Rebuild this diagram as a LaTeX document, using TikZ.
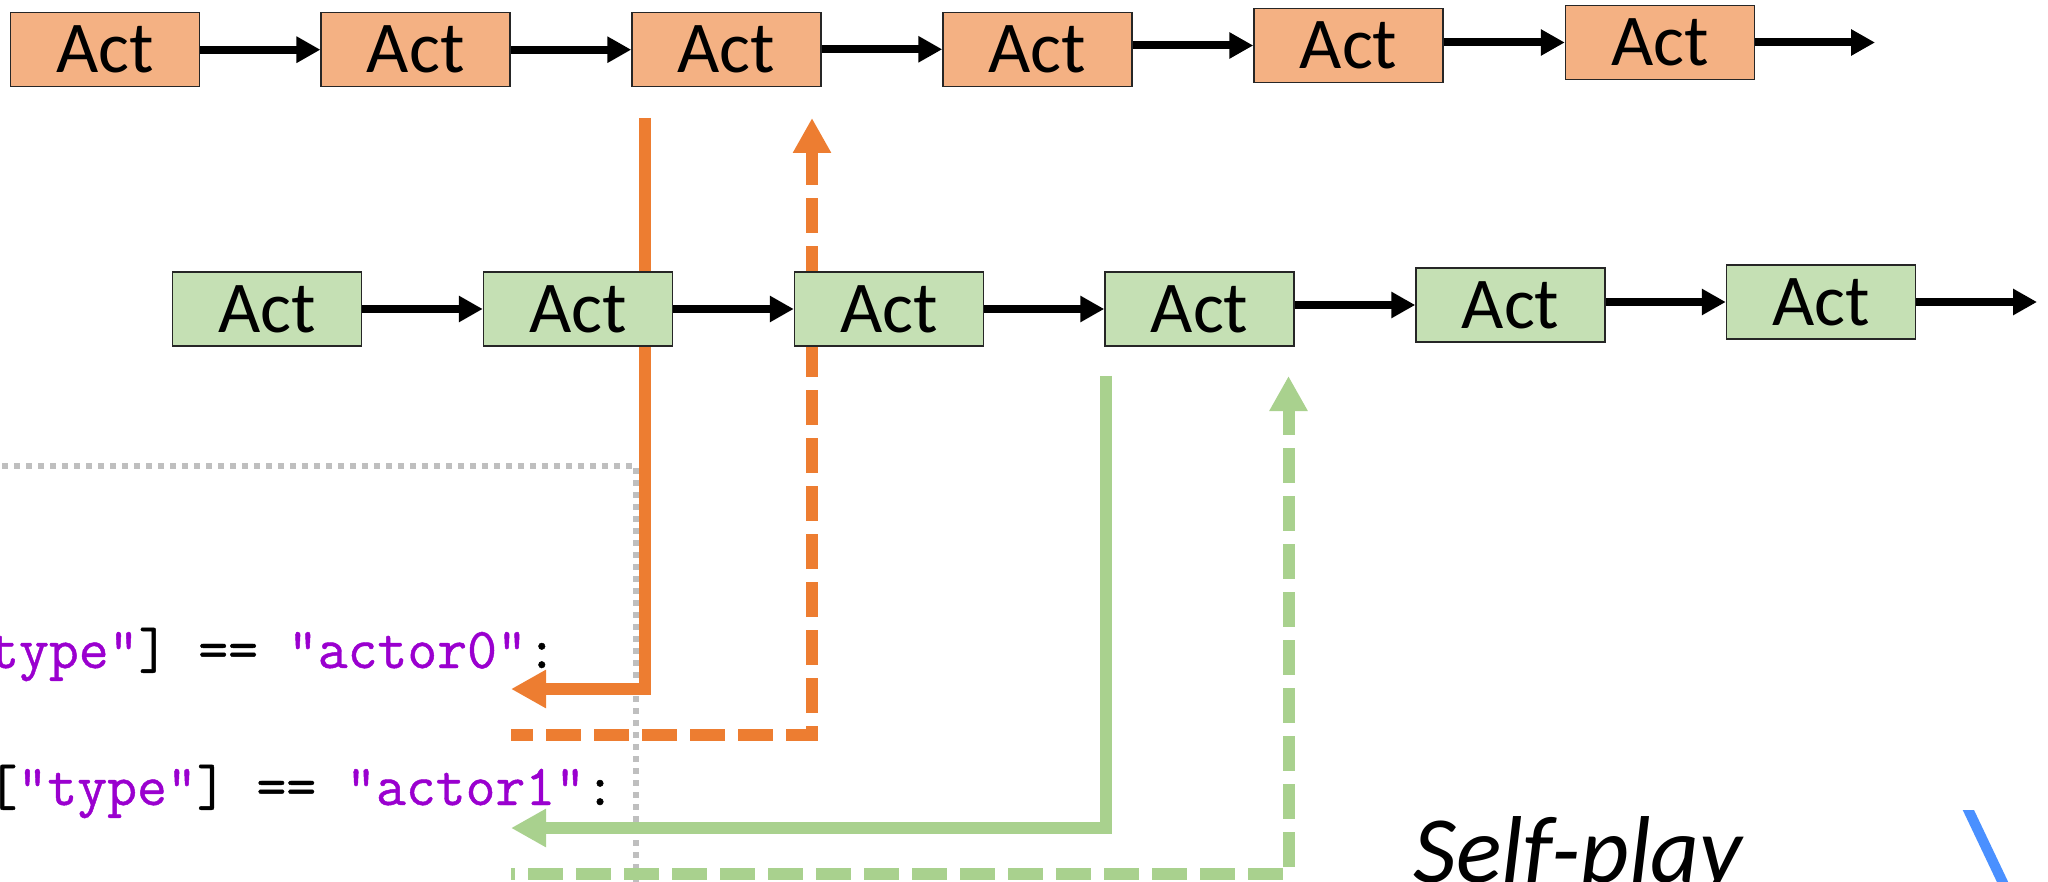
\documentclass[tikz,border=0pt]{standalone}
\usepackage{fontspec}
\newfontfamily\actfont{Carlito}
\newfontfamily\codefont{Latin Modern Mono}[FakeBold=0.8]
\usetikzlibrary{arrows.meta}
\definecolor{actorange}{HTML}{F4B183}
\definecolor{actgreen}{HTML}{C5E0B4}
\definecolor{lineorange}{HTML}{ED7D31}
\definecolor{linegreen}{HTML}{A9D18E}
\definecolor{guide}{HTML}{BFBFBF}
\definecolor{codestr}{HTML}{9A00CF}
\definecolor{accent}{HTML}{4A90FF}
\begin{document}
\begin{tikzpicture}[x=1pt,y=-1pt,
  actbox/.style={draw=black!85, line width=1.5pt, minimum width=189pt,
    minimum height=74pt, inner sep=0pt,
    font=\actfont\fontsize{73}{86}\selectfont},
  orangebox/.style={actbox, fill=actorange},
  greenbox/.style={actbox, fill=actgreen},
  flow/.style={line width=8pt, -{Triangle[length=24pt,width=25pt]}},
  feed/.style={line width=12pt, -{Triangle[length=35pt,width=36pt]}},
  dashfeed/.style={feed, dash pattern=on 35pt off 13pt},
  guideline/.style={draw=guide, line width=6pt, dash pattern=on 6pt off 6pt},
  code/.style={anchor=base west, inner sep=0pt,
    font=\codefont\fontsize{58}{70}\selectfont},
]
\useasboundingbox (0,0) rectangle (2048,882);

% actor 0 timeline
\node[orangebox] (o1) at (105,49.7)   {Act};
\node[orangebox] (o2) at (415.7,49.7) {Act};
\node[orangebox] (o3) at (726.5,49.7) {Act};
\node[orangebox] (o4) at (1037.5,49.3) {Act};
\node[orangebox] (o5) at (1348.5,45.5) {Act};
\node[orangebox] (o6) at (1660,42.5)  {Act};
\coordinate (oend) at (1875,42.5);
\foreach \a/\b in {o1/o2,o2/o3,o3/o4,o4/o5,o5/o6}
  \draw[flow] (\a.east |- \b.west) -- (\b.west);
\draw[flow] (o6.east) -- (oend);

% guide frame around the code
\coordinate (g0) at (-10,466);
\coordinate (g1) at (636,890);
\draw[guideline] (g0) -| (g1);

% code lines
\node[code] (c0) at (-11,668) {\textcolor{codestr}{type"}]~==~\textcolor{codestr}{"actor0"}:};
\node[code] (c1) at (-12.5,805) {[\textcolor{codestr}{"type"}]~==~\textcolor{codestr}{"actor1"}:};

% actor 0 feedback
\coordinate (os)  at (645,118);
\coordinate (ot)  at (511,689);
\coordinate (ods) at (511,735);
\coordinate (odt) at (812,118);
\draw[feed, lineorange] (os) |- (ot);
\draw[dashfeed, lineorange, dash phase=13pt] (ods) -| (odt);

% actor 1 timeline
\node[greenbox] (g1b) at (267,309)    {Act};
\node[greenbox] (g2b) at (578,309)    {Act};
\node[greenbox] (g3b) at (889,309)    {Act};
\node[greenbox] (g4b) at (1199.5,309) {Act};
\node[greenbox] (g5b) at (1510.5,305) {Act};
\node[greenbox] (g6b) at (1821,302)   {Act};
\coordinate (gend) at (2037,302);
\foreach \a/\b in {g1b/g2b,g2b/g3b,g3b/g4b,g4b/g5b,g5b/g6b}
  \draw[flow] (\a.east |- \b.west) -- (\b.west);
\draw[flow] (g6b.east) -- (gend);

% actor 1 feedback
\coordinate (gs)  at (1106,376);
\coordinate (gt)  at (511,828);
\coordinate (gds) at (511,874);
\coordinate (gdt) at (1288.5,376);
\draw[feed, linegreen] (gs) |- (gt);
\draw[dashfeed, linegreen, dash phase=31pt] (gds) -| (gdt);

% caption
\node[anchor=base west, inner sep=0pt,
  font=\actfont\itshape\fontsize{95}{112}\selectfont] (cap) at (1413,882) {Self-play};

% accent stroke
\fill[accent] (1962.7,810) -- (1974,810) -- (2012,890) -- (2000.7,890) -- cycle;
\end{tikzpicture}
\end{document}
